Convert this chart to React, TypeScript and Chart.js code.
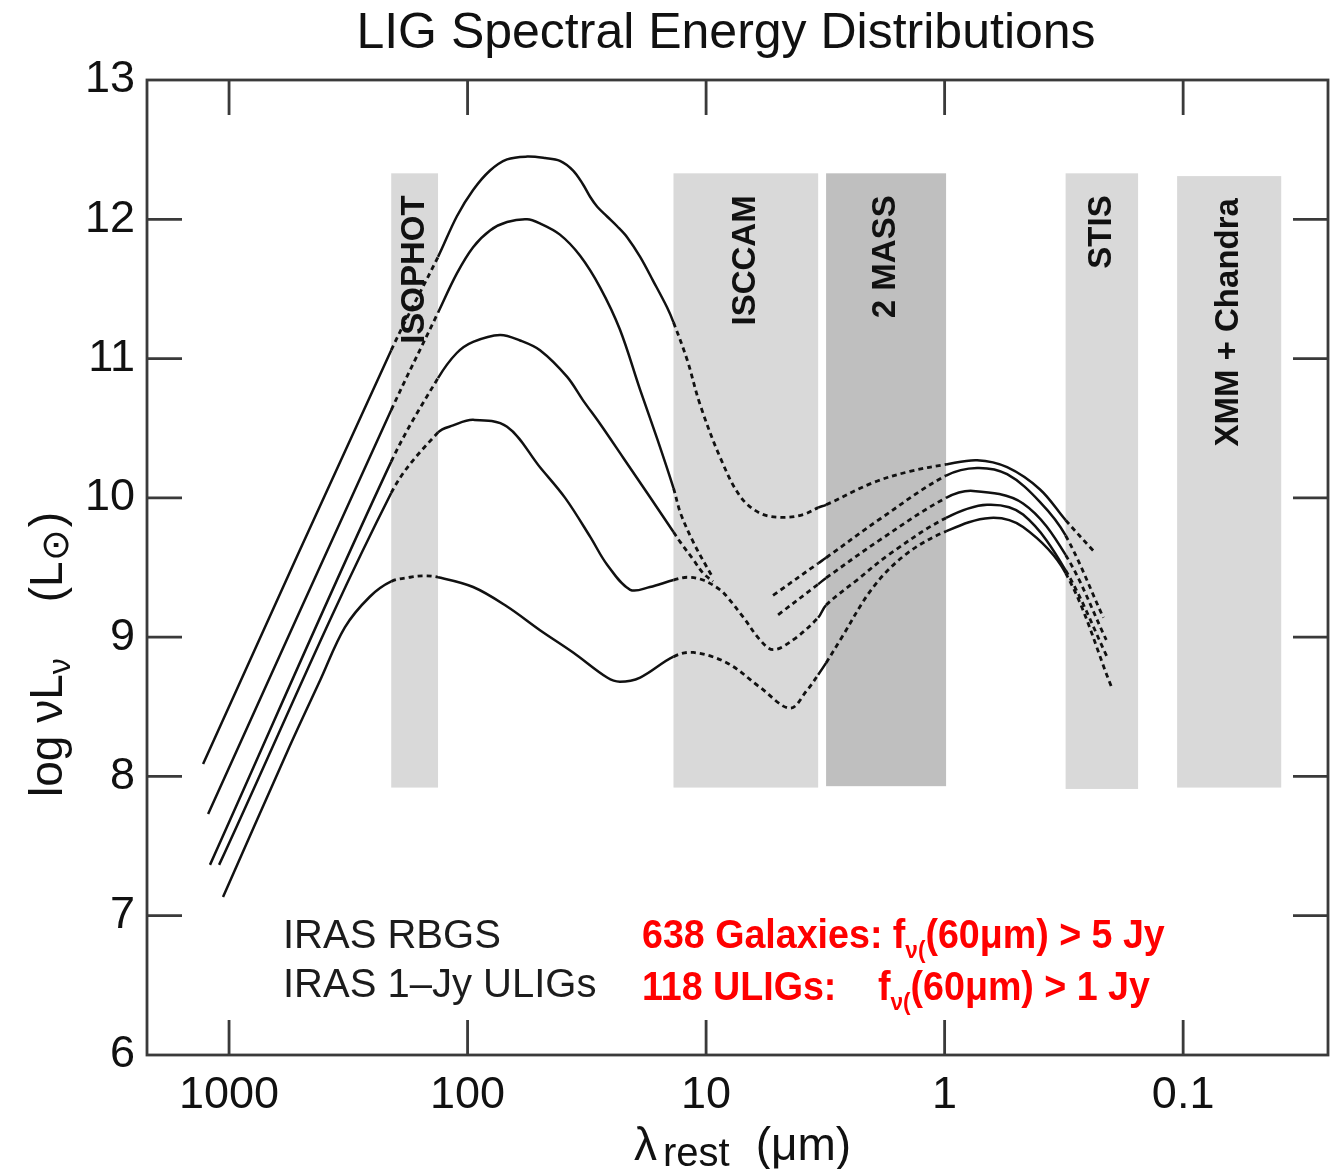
import React, { useEffect, useRef } from 'react';
import { Chart, registerables } from 'chart.js';

Chart.register(...registerables);

// ---- axes ----
const WL_MIN = 0.0247; // right edge (short wavelength), microns
const WL_MAX = 2208; // left edge (long wavelength), microns
const LUM_MIN = 6;
const LUM_MAX = 13;
const xTickValues = [1000, 100, 10, 1, 0.1];
const xTickLabels = ['1000', '100', '10', '1', '0.1'];
const yTickValues = [6, 7, 8, 9, 10, 11, 12, 13];

// ---- instrument coverage bands (microns, log L) ----
const bandNames = ['ISOPHOT', 'ISCCAM', '2 MASS', 'STIS', 'XMM + Chandra'];
const bandLongWl = [209, 13.7, 3.14, 0.311, 0.106];
const bandShortWl = [133, 3.39, 0.986, 0.1545, 0.0388];
const bandTop = [12.33, 12.33, 12.33, 12.33, 12.31];
const bandBottom = [7.92, 7.92, 7.93, 7.91, 7.92];
const bandShade = ['#d9d9d9', '#d9d9d9', '#bfbfbf', '#d9d9d9', '#d9d9d9'];

// ---- SED templates, most to least luminous ----
const sedA_wl = [1285, 209, 133, 111, 94.8, 80.5, 68.3, 56.3, 47.3, 41.0, 36.1, 32.8, 30.6, 28.6, 26.0, 23.6, 21.4, 18.9, 16.7, 14.6, 13.7, 12.0, 10.6, 8.73, 7.19, 5.94, 4.80, 3.92, 3.39, 3.14, 1.99, 1.40, 0.986, 0.731, 0.547, 0.398, 0.311, 0.238];
const sedA_lum = [8.09, 11.06, 11.73, 12.02, 12.21, 12.35, 12.43, 12.45, 12.44, 12.42, 12.35, 12.25, 12.16, 12.09, 12.02, 11.95, 11.87, 11.73, 11.56, 11.37, 11.26, 10.99, 10.67, 10.29, 10.01, 9.89, 9.86, 9.88, 9.93, 9.95, 10.11, 10.19, 10.24, 10.27, 10.22, 10.06, 9.84, 9.62];

const sedB_farWl = [1224, 209, 133, 111, 94.8, 80.5, 68.3, 56.3, 49.7, 41.0, 33.8, 27.8, 23.0, 18.9, 16.0, 13.7, 12.8, 11.3, 9.91, 9.35];
const sedB_farLum = [7.73, 10.63, 11.33, 11.61, 11.80, 11.92, 11.98, 12.0, 11.97, 11.89, 11.74, 11.51, 11.21, 10.775, 10.42, 10.07, 9.89, 9.68, 9.50, 9.425];
const sedB_nearWl = [5.24, 3.39, 3.14, 1.86, 0.986, 0.731, 0.547, 0.398, 0.311, 0.216];
const sedB_nearLum = [9.30, 9.53, 9.57, 9.85, 10.16, 10.215, 10.17, 9.97, 9.73, 9.14];

const sedC_farWl = [1202, 209, 133, 111, 94.8, 73.1, 60.2, 49.7, 38.3, 32.8, 27.8, 22.3, 17.2, 13.7, 12.8, 11.3, 10.3, 9.35];
const sedC_farLum = [7.365, 10.26, 10.86, 11.04, 11.12, 11.17, 11.13, 11.06, 10.87, 10.70, 10.53, 10.29, 10.006, 9.755, 9.68, 9.555, 9.46, 9.40];
const sedC_nearWl = [4.99, 3.39, 3.14, 1.86, 0.986, 0.760, 0.469, 0.311, 0.210];
const sedC_nearLum = [9.16, 9.38, 9.425, 9.70, 10.0, 10.05, 9.96, 9.59, 8.98];

const sedD_wl = [1101, 209, 133, 115, 94.8, 68.3, 49.7, 39.0, 30.6, 26.0, 20.8, 17.2, 13.7, 12.0, 10.3, 8.73, 8.17, 7.00, 5.94, 5.24, 4.32, 3.39, 3.14, 2.33, 1.69, 0.986, 0.664, 0.469, 0.311, 0.206];
const sedD_lum = [7.365, 10.035, 10.47, 10.52, 10.56, 10.51, 10.22, 10.0, 9.72, 9.52, 9.34, 9.36, 9.41, 9.43, 9.41, 9.34, 9.29, 9.145, 8.98, 8.91, 8.98, 9.14, 9.23, 9.41, 9.60, 9.856, 9.95, 9.88, 9.48, 8.84];

const sedE_wl = [1060, 566, 415, 327, 257, 209, 174, 151, 133, 94.8, 68.3, 49.7, 36.1, 26.0, 23.0, 18.9, 13.7, 11.3, 8.17, 5.94, 4.45, 3.77, 3.39, 3.14, 2.74, 1.99, 1.44, 0.986, 0.645, 0.469, 0.311, 0.199];
const sedE_lum = [7.135, 8.19, 8.69, 9.07, 9.29, 9.40, 9.43, 9.44, 9.43, 9.36, 9.22, 9.05, 8.89, 8.71, 8.68, 8.71, 8.86, 8.89, 8.815, 8.64, 8.49, 8.62, 8.73, 8.815, 8.98, 9.36, 9.60, 9.76, 9.856, 9.79, 9.46, 8.635];

const curveParts: [number[], number[]][] = [
  [sedA_wl, sedA_lum],
  [sedB_farWl, sedB_farLum],
  [sedB_nearWl, sedB_nearLum],
  [sedC_farWl, sedC_farLum],
  [sedC_nearWl, sedC_nearLum],
  [sedD_wl, sedD_lum],
  [sedE_wl, sedE_lum],
];

const FONT = '"Liberation Sans", Arial, Helvetica, sans-serif';
const INK = '#111111';
const FRAME = '#3a3a3a';

// a segment is dotted where it crosses an instrument band
function insideBand(a: number, b: number): boolean {
  const mid = Math.sqrt(a * b);
  return bandLongWl.some((hi, i) => mid < hi && mid > bandShortWl[i]);
}

type Run = { text: string; size: number; weight?: string; dy?: number; gap?: number };

function drawRuns(ctx: CanvasRenderingContext2D, x: number, y: number, runs: Run[], color: string, sx = 1) {
  ctx.save();
  ctx.translate(x, y);
  ctx.scale(sx, 1);
  ctx.fillStyle = color;
  ctx.textAlign = 'left';
  ctx.textBaseline = 'alphabetic';
  let cx = 0;
  for (const r of runs) {
    ctx.font = `${r.weight ?? 'normal'} ${r.size}px ${FONT}`;
    cx += r.gap ?? 0;
    ctx.fillText(r.text, cx, r.dy ?? 0);
    cx += ctx.measureText(r.text).width;
  }
  ctx.restore();
}

const decorations = {
  id: 'sedDecorations',
  beforeDatasetsDraw(chart: any) {
    const { ctx, scales } = chart;
    const xs = scales.x;
    const ys = scales.y;
    ctx.save();
    bandNames.forEach((name, i) => {
      const x0 = xs.getPixelForValue(bandLongWl[i]);
      const x1 = xs.getPixelForValue(bandShortWl[i]);
      const y0 = ys.getPixelForValue(bandTop[i]);
      const y1 = ys.getPixelForValue(bandBottom[i]);
      ctx.fillStyle = bandShade[i];
      ctx.fillRect(x0, y0, x1 - x0, y1 - y0);
      ctx.save();
      ctx.translate((x0 + x1) / 2, y0 + 22);
      ctx.rotate(-Math.PI / 2);
      ctx.font = `bold 33px ${FONT}`;
      ctx.fillStyle = INK;
      ctx.textAlign = 'right';
      ctx.textBaseline = 'middle';
      ctx.fillText(name, 0, 0);
      ctx.restore();
    });
    ctx.restore();
  },
  afterDatasetsDraw(chart: any) {
    const { ctx, chartArea: a, scales } = chart;
    const xs = scales.x;
    const ys = scales.y;
    const tick = 35;
    ctx.save();
    ctx.strokeStyle = FRAME;
    ctx.lineWidth = 2.8;
    ctx.strokeRect(a.left, a.top, a.right - a.left, a.bottom - a.top);
    ctx.beginPath();
    xTickValues.forEach((v) => {
      const px = xs.getPixelForValue(v);
      ctx.moveTo(px, a.bottom);
      ctx.lineTo(px, a.bottom - tick);
      ctx.moveTo(px, a.top);
      ctx.lineTo(px, a.top + tick);
    });
    yTickValues.slice(1, -1).forEach((v) => {
      const py = ys.getPixelForValue(v);
      ctx.moveTo(a.left, py);
      ctx.lineTo(a.left + tick, py);
      ctx.moveTo(a.right, py);
      ctx.lineTo(a.right - tick, py);
    });
    ctx.stroke();

    // title
    ctx.fillStyle = INK;
    ctx.font = `50px ${FONT}`;
    ctx.textAlign = 'center';
    ctx.textBaseline = 'alphabetic';
    ctx.fillText('LIG Spectral Energy Distributions', 726, 48);

    // x axis title
    drawRuns(ctx, 634, 1160, [
      { text: 'λ', size: 46 },
      { text: 'rest', size: 40, dy: 6, gap: 6 },
      { text: '(μm)', size: 46, gap: 26 },
    ], INK);

    // y axis title
    ctx.save();
    ctx.translate(62, 797);
    ctx.rotate(-Math.PI / 2);
    drawRuns(ctx, 0, 0, [
      { text: 'log νL', size: 46 },
      { text: 'ν', size: 32, dy: 8 },
      { text: '(L', size: 46, gap: 56 },
      { text: '⊙', size: 38, dy: 6 },
      { text: ')', size: 46, gap: 2 },
    ], INK);
    ctx.restore();

    // sample notes
    drawRuns(ctx, 283, 948, [{ text: 'IRAS RBGS', size: 40 }], '#1c1c1c');
    drawRuns(ctx, 283, 997, [{ text: 'IRAS 1–Jy ULIGs', size: 40 }], '#1c1c1c');
    const red = '#ff0000';
    drawRuns(ctx, 642, 948, [
      { text: '638 Galaxies: f', size: 40, weight: 'bold' },
      { text: 'ν(', size: 24, weight: 'bold', dy: 10 },
      { text: '(60μm) > 5 Jy', size: 40, weight: 'bold' },
    ], red, 0.94);
    drawRuns(ctx, 642, 1000, [{ text: '118 ULIGs:', size: 40, weight: 'bold' }], red, 0.94);
    drawRuns(ctx, 878, 1000, [
      { text: 'f', size: 40, weight: 'bold' },
      { text: 'ν(', size: 24, weight: 'bold', dy: 10 },
      { text: '(60μm) > 1 Jy', size: 40, weight: 'bold' },
    ], red, 0.94);
    ctx.restore();
  },
};

export default function App() {
  const canvasRef = useRef<HTMLCanvasElement | null>(null);

  useEffect(() => {
    const canvas = canvasRef.current;
    if (!canvas) return;

    const datasets = curveParts.map(([wl, lum]) => ({
      data: wl.map((w, i) => ({ x: w, y: lum[i] })),
      borderColor: INK,
      borderWidth: 2.5,
      pointRadius: 0,
      fill: false,
      tension: 0.35,
      segment: {
        borderDash: (c: any) => (insideBand(c.p0.parsed.x, c.p1.parsed.x) ? [5, 4] : []),
        borderWidth: (c: any) => (insideBand(c.p0.parsed.x, c.p1.parsed.x) ? 2.8 : 2.5),
      },
    }));

    const chart = new Chart(canvas, {
      type: 'line',
      data: { datasets },
      options: {
        animation: false,
        responsive: true,
        maintainAspectRatio: false,
        layout: { padding: { left: 0, top: 80, right: 10, bottom: 0 } },
        plugins: {
          legend: { display: false },
          tooltip: { enabled: false },
          title: { display: false },
        },
        scales: {
          x: {
            type: 'logarithmic',
            reverse: true,
            bounds: 'data',
            min: WL_MIN,
            max: WL_MAX,
            grid: { display: false, drawTicks: false },
            border: { display: false },
            afterBuildTicks: (s: any) => {
              s.ticks = xTickValues.map((v) => ({ value: v }));
            },
            afterFit: (s: any) => {
              s.height = 114;
            },
            ticks: {
              autoSkip: false,
              maxRotation: 0,
              padding: 14,
              color: INK,
              font: { family: FONT, size: 45 },
              callback: (v: any) => {
                const k = xTickValues.findIndex((t) => Math.abs(t - Number(v)) < 1e-9 * Math.max(1, t));
                return k >= 0 ? xTickLabels[k] : '';
              },
            },
          },
          y: {
            type: 'linear',
            min: LUM_MIN,
            max: LUM_MAX,
            grid: { display: false, drawTicks: false },
            border: { display: false },
            afterBuildTicks: (s: any) => {
              s.ticks = yTickValues.map((v) => ({ value: v }));
            },
            afterFit: (s: any) => {
              s.width = 147;
            },
            ticks: {
              padding: 12,
              color: INK,
              font: { family: FONT, size: 45 },
              callback: (v: any) => String(v),
            },
          },
        },
      },
      plugins: [decorations],
    } as any);

    return () => chart.destroy();
  }, []);

  return (
    <div style={{ position: 'absolute', left: 0, top: 0, width: 1338, height: 1169, background: '#fff' }}>
      <canvas ref={canvasRef} />
    </div>
  );
}
